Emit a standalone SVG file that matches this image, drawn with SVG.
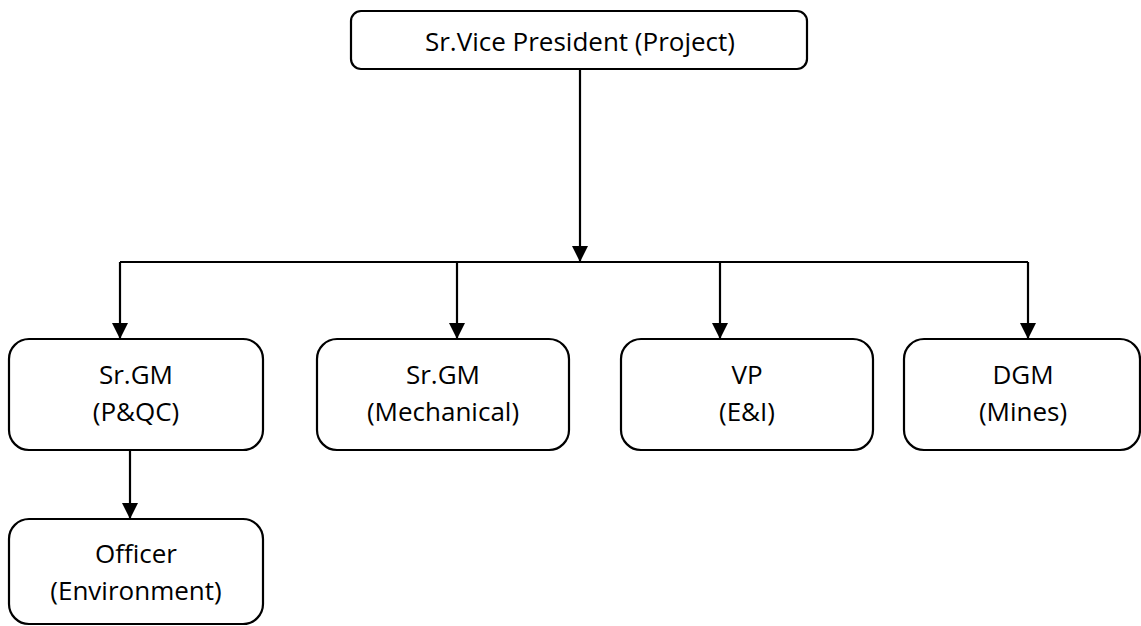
<svg xmlns="http://www.w3.org/2000/svg" width="1141" height="626" viewBox="0 0 1141 626">
  <defs>
    <style>
      .node rect { fill: #ffffff; stroke: #000000; stroke-width: 2.2; }
      .node text { font-family: "Open Sans", "Liberation Sans", sans-serif; font-size: 26px; fill: #000000; text-anchor: middle; }
      .conn path { fill: none; stroke: #000000; stroke-width: 2.2; }
    </style>
    <marker id="arrow" viewBox="0 0 16 16" refX="16" refY="8" markerWidth="16" markerHeight="16" markerUnits="userSpaceOnUse" orient="auto">
      <path d="M0,0 L16,8 L0,16 Z" fill="#000000"/>
    </marker>
  </defs>
  <rect width="1141" height="626" fill="#ffffff"/>

  <g id="connectors" class="conn">
    <path d="M580,69 V262" marker-end="url(#arrow)"/>
    <path d="M120,262 H1028"/>
    <path d="M120,262 V339" marker-end="url(#arrow)"/>
    <path d="M457,262 V339" marker-end="url(#arrow)"/>
    <path d="M720,262 V339" marker-end="url(#arrow)"/>
    <path d="M1028,262 V339" marker-end="url(#arrow)"/>
    <path d="M130,450 V519" marker-end="url(#arrow)"/>
  </g>

  <g id="node-svp" class="node">
    <rect x="351" y="11" width="456" height="58" rx="10" ry="10"/>
    <text x="580" y="51">Sr.Vice President (Project)</text>
  </g>

  <g id="node-srgm-pqc" class="node">
    <rect x="9" y="339" width="254" height="111" rx="20" ry="20"/>
    <text x="136" y="384">Sr.GM</text>
    <text x="136" y="421">(P&amp;QC)</text>
  </g>

  <g id="node-srgm-mech" class="node">
    <rect x="317" y="339" width="252" height="111" rx="20" ry="20"/>
    <text x="443" y="384">Sr.GM</text>
    <text x="443" y="421">(Mechanical)</text>
  </g>

  <g id="node-vp" class="node">
    <rect x="621" y="339" width="252" height="111" rx="20" ry="20"/>
    <text x="747" y="384">VP</text>
    <text x="747" y="421">(E&amp;I)</text>
  </g>

  <g id="node-dgm" class="node">
    <rect x="904" y="339" width="236" height="111" rx="20" ry="20"/>
    <text x="1023" y="384">DGM</text>
    <text x="1023" y="421">(Mines)</text>
  </g>

  <g id="node-officer" class="node">
    <rect x="9" y="519" width="254" height="105" rx="20" ry="20"/>
    <text x="136" y="563">Officer</text>
    <text x="136" y="600">(Environment)</text>
  </g>
</svg>
